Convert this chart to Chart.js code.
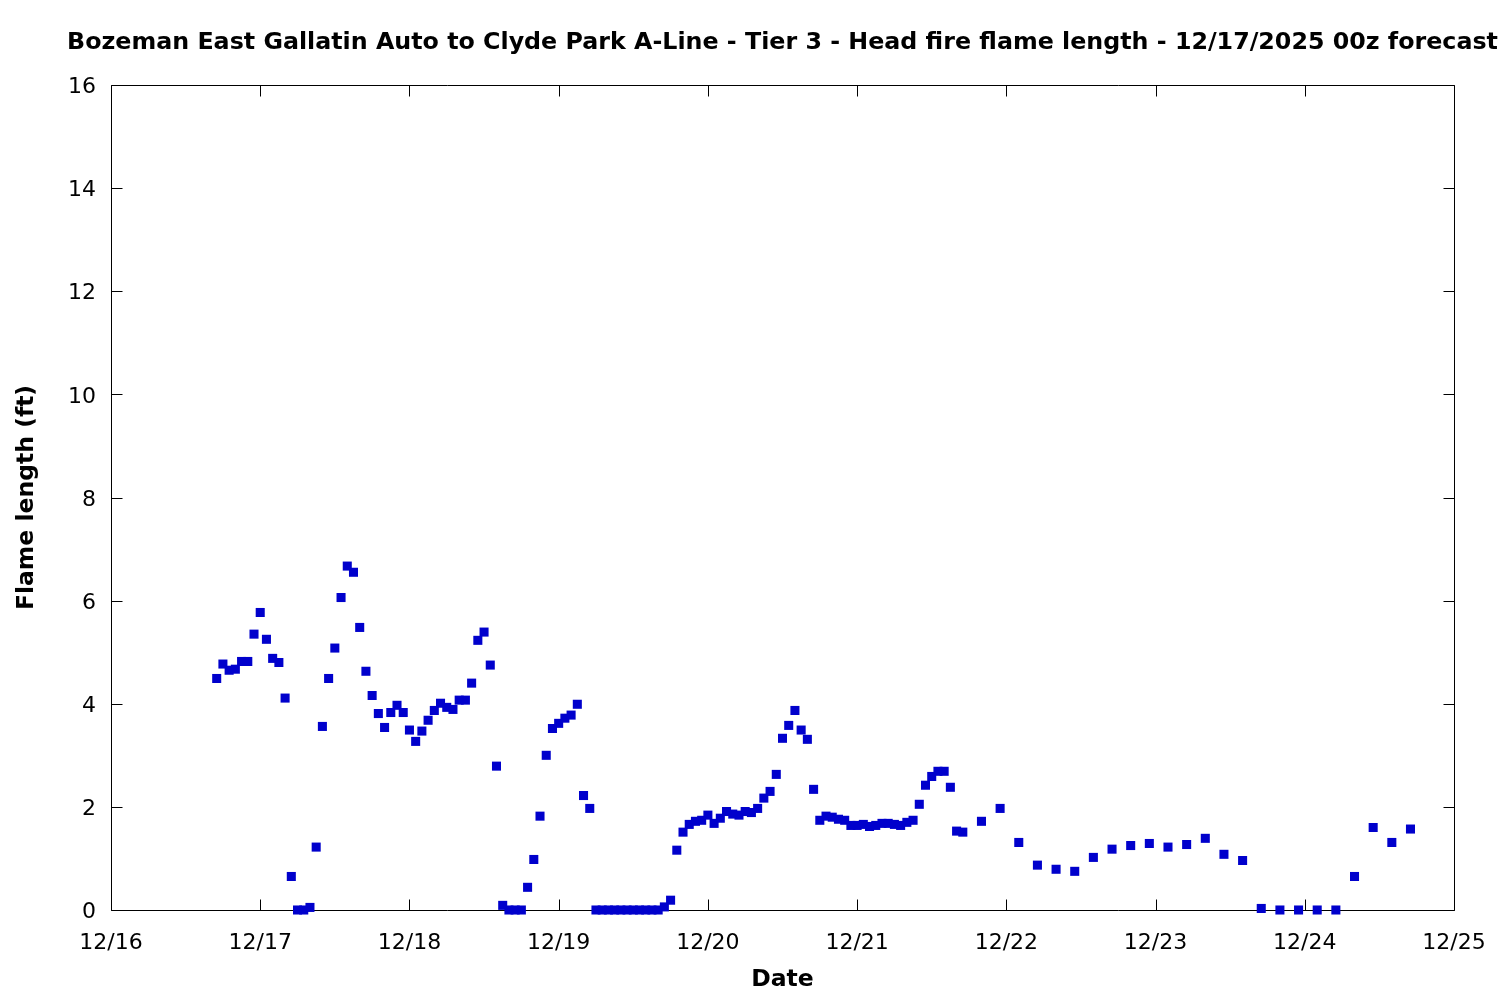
<!DOCTYPE html>
<html>
<head>
<meta charset="utf-8">
<script src="https://cdn.jsdelivr.net/npm/chart.js@4.4.1/dist/chart.umd.min.js"></script>
<style>
  html, body { margin: 0; padding: 0; background: #fff; }
</style>
</head>
<body>
<canvas id="flameChart" width="1500" height="1000"></canvas>
<script>
const chartTitle = "Bozeman East Gallatin Auto to Clyde Park A-Line - Tier 3 - Head fire flame length - 12/17/2025 00z forecast";

// hours after 12/16 00:00 local time
const forecastHour = [
  17, 18, 19, 20, 21, 22, 23,
  24, 25, 26, 27, 28, 29, 30, 31, 32, 33, 34, 35, 36, 37, 38, 39, 40, 41, 42, 43, 44, 45, 46, 47,
  48, 49, 50, 51, 52, 53, 54, 55, 56, 57, 58, 59, 60, 61, 62, 63, 64, 65, 66, 67, 68, 69, 70, 71,
  72, 73, 74, 75, 76, 77, 78, 79, 80, 81, 82, 83, 84, 85, 86, 87, 88, 89, 90, 91, 92, 93, 94, 95,
  96, 97, 98, 99, 100, 101, 102, 103, 104, 105, 106, 107, 108, 109, 110, 111, 112, 113, 114, 115, 116, 117, 118, 119,
  120, 121, 122, 123, 124, 125, 126, 127, 128, 129, 130, 131, 132, 133, 134, 135, 136, 137,
  140, 143,
  146, 149, 152, 155, 158, 161, 164, 167,
  170, 173, 176, 179, 182, 185, 188, 191,
  194, 197, 200, 203, 206, 209
];

// flame length (ft)
const flameLength = [
  4.49, 4.77, 4.65, 4.67, 4.82, 4.82, 5.35,
  5.77, 5.25, 4.88, 4.80, 4.11, 0.65, 0, 0, 0.05, 1.22, 3.56, 4.49, 5.08, 6.06, 6.67, 6.55, 5.48, 4.63, 4.16, 3.81, 3.54, 3.83, 3.97, 3.83,
  3.49, 3.27, 3.47, 3.68, 3.87, 4.01, 3.93, 3.89, 4.07, 4.07, 4.40, 5.23, 5.39, 4.75, 2.79, 0.09, 0, 0, 0, 0.44, 0.98, 1.82, 3.00, 3.52,
  3.62, 3.72, 3.78, 3.99, 2.22, 1.97, 0, 0, 0, 0, 0, 0, 0, 0, 0, 0, 0, 0.06, 0.19, 1.16, 1.51, 1.66, 1.72, 1.74,
  1.84, 1.68, 1.78, 1.91, 1.86, 1.84, 1.91, 1.89, 1.97, 2.17, 2.30, 2.63, 3.33, 3.58, 3.87, 3.49, 3.31, 2.34, 1.74, 1.82, 1.80, 1.76, 1.74, 1.64,
  1.64, 1.66, 1.62, 1.64, 1.68, 1.68, 1.66, 1.64, 1.70, 1.74, 2.05, 2.42, 2.59, 2.69, 2.69, 2.38, 1.53, 1.51,
  1.72, 1.97,
  1.31, 0.87, 0.79, 0.75, 1.02, 1.18, 1.25, 1.29,
  1.22, 1.27, 1.39, 1.08, 0.96, 0.03, 0, 0,
  0, 0, 0.65, 1.60, 1.31, 1.57
];

const dayLabels = ["12/16", "12/17", "12/18", "12/19", "12/20", "12/21", "12/22", "12/23", "12/24", "12/25"];

const FONT = "'DejaVu Sans', 'Noto Sans', sans-serif";
const TICK = 11;

const framePlugin = {
  id: 'frame',
  beforeDatasetsDraw(chart) {
    const { ctx, chartArea: a, scales: { x, y } } = chart;
    const l = Math.round(a.left) + 0.5, r = Math.round(a.right) + 0.5;
    const t = Math.round(a.top) + 0.5, b = Math.round(a.bottom) + 0.5;
    ctx.save();
    ctx.strokeStyle = '#000';
    ctx.lineWidth = 1;
    ctx.beginPath();
    ctx.rect(l, t, r - l, b - t);
    x.ticks.forEach(tk => {
      const px = Math.round(x.getPixelForValue(tk.value)) + 0.5;
      ctx.moveTo(px, b); ctx.lineTo(px, b - TICK);
      ctx.moveTo(px, t); ctx.lineTo(px, t + TICK);
    });
    y.ticks.forEach(tk => {
      const py = Math.round(y.getPixelForValue(tk.value)) + 0.5;
      ctx.moveTo(l, py); ctx.lineTo(l + TICK, py);
      ctx.moveTo(r, py); ctx.lineTo(r - TICK, py);
    });
    ctx.stroke();
    ctx.restore();
  },
  afterDraw(chart) {
    const { ctx, chartArea: a } = chart;
    ctx.save();
    ctx.fillStyle = '#000';
    ctx.font = "bold 23.75px " + FONT;
    ctx.textAlign = 'center';
    ctx.textBaseline = 'middle';
    ctx.fillText(chartTitle, (a.left + a.right) / 2, 43);
    ctx.restore();
  }
};

const points = forecastHour.map((h, i) => ({ x: h, y: flameLength[i] }));

new Chart(document.getElementById('flameChart'), {
  type: 'scatter',
  data: {
    datasets: [{
      data: points,
      pointStyle: 'rect',
      pointRadius: 6.4,
      pointHoverRadius: 6.4,
      borderWidth: 0,
      backgroundColor: '#0000cc',
      clip: false
    }]
  },
  options: {
    responsive: false,
    animation: false,
    layout: { padding: { top: 85, right: 46, bottom: 0, left: 0 } },
    plugins: {
      legend: { display: false },
      title: { display: false },
      tooltip: { enabled: false }
    },
    scales: {
      x: {
        type: 'linear',
        min: 0,
        max: 216,
        afterFit(scale) {
          scale.height = 90;
          scale.paddingLeft = 0;
          scale.paddingRight = 0;
        },
        grid: { display: false, drawTicks: false },
        border: { display: false },
        ticks: {
          stepSize: 24,
          padding: 20,
          color: '#000',
          font: { family: FONT, size: 22 },
          maxRotation: 0,
          callback: v => dayLabels[Math.round(v / 24)]
        },
        title: {
          display: true,
          text: 'Date',
          color: '#000',
          font: { family: FONT, size: 23.5, weight: 'bold' },
          padding: { top: 0, bottom: 6 }
        }
      },
      y: {
        min: 0,
        max: 16,
        afterFit(scale) {
          scale.width = 111;
          scale.paddingTop = 0;
          scale.paddingBottom = 0;
        },
        grid: { display: false, drawTicks: false },
        border: { display: false },
        ticks: {
          stepSize: 2,
          padding: 15,
          labelOffset: 2.5,
          color: '#000',
          font: { family: FONT, size: 22 }
        },
        title: {
          display: true,
          text: 'Flame length (ft)',
          color: '#000',
          font: { family: FONT, size: 23.5, weight: 'bold' },
          padding: { top: 13, bottom: 0 }
        }
      }
    }
  },
  plugins: [framePlugin]
});
</script>
</body>
</html>
